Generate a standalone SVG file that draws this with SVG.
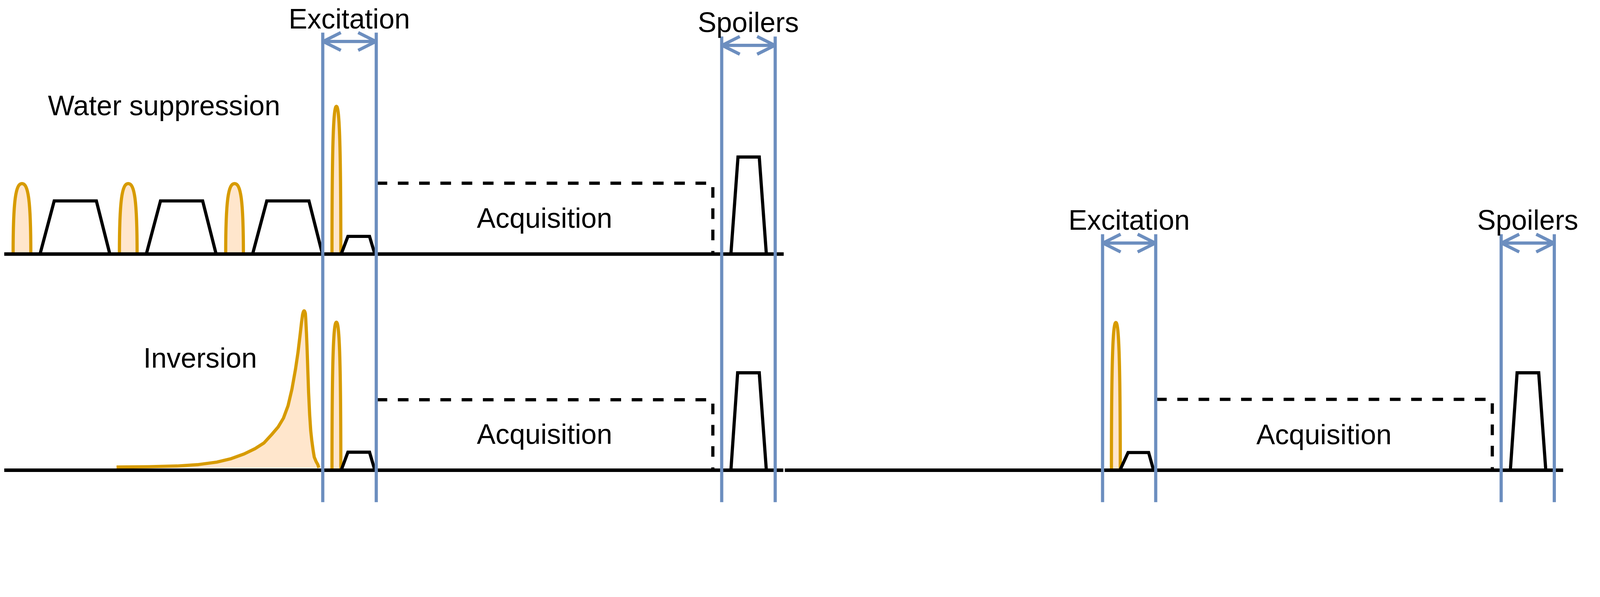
<svg xmlns="http://www.w3.org/2000/svg" width="4516" height="1528" viewBox="0 0 4516 1528" preserveAspectRatio="xMidYMin meet" style="width:100vw;height:100vh;display:block;overflow:hidden">
<defs>
<style>
.base{stroke:#000;stroke-width:10;fill:none}
.grad{stroke:#000;stroke-width:9;fill:none;stroke-linejoin:miter}
.dash{stroke:#000;stroke-width:9;fill:none;stroke-dasharray:30 30}
.rf{fill:#FFE6CC;stroke:#D79B00;stroke-width:9}
.rfill{fill:#FFE6CC;stroke:none}
.rline{fill:none;stroke:#D79B00;stroke-width:9;stroke-linejoin:round}
.guide{stroke:#6C8EBF;stroke-width:9;fill:none}
.arrow{stroke:#6C8EBF;stroke-width:9;fill:none;marker-start:url(#ah);marker-end:url(#ah)}
text{font-family:"Liberation Sans",Arial,sans-serif;font-size:79px;fill:#000;text-anchor:middle}
</style>
<marker id="ah" markerUnits="userSpaceOnUse" viewBox="-60 -35 70 70" markerWidth="70" markerHeight="70" refX="0" refY="0" orient="auto-start-reverse" overflow="visible">
<path d="M-50,-25 L0,0 L-50,25" fill="none" stroke="#6C8EBF" stroke-width="9" stroke-linejoin="round"/>
</marker>
</defs>
<rect width="4516" height="1528" fill="#fff"/>

<g id="rf-pulses">
<path class="rf" d="M37,717 C37,560 45,518 62,518 C79,518 87,560 87,717"/>
<path class="rf" d="M337,717 C337,560 345,518 362,518 C379,518 387,560 387,717"/>
<path class="rf" d="M637,717 C637,560 645,518 662,518 C679,518 687,560 687,717"/>
<path class="rf" d="M937,717 C937,380 942,300 949.5,300 C957,300 962,380 962,717"/>
<path class="rf" d="M937,1327 C937,990 942,909 949.5,909 C957,909 962,990 962,1327"/>
<path class="rf" d="M3137,1327 C3137,990 3142,910 3149.5,910 C3157,910 3162,990 3162,1327"/>
</g>

<g id="inversion-pulse">
<path class="rfill" d="M329,1318 L420,1317 L500,1315 L560,1311 L612,1304 L650,1295 L689,1281 L720,1266 L745,1250 L767,1226 L785,1205 L800,1180 L813,1145 L824,1098 L834,1042 L841,995 L847,945 L852,905 L855,885 L858,875 L861,879 L863,900 L865,940 L867,990 L869,1050 L871,1107 L874,1170 L877,1215 L880,1243 L884,1272 L887,1290 L892,1302 L897,1311 L900,1320 L329,1320 Z"/>
<path class="rline" d="M329,1318 L420,1317 L500,1315 L560,1311 L612,1304 L650,1295 L689,1281 L720,1266 L745,1250 L767,1226 L785,1205 L800,1180 L813,1145 L824,1098 L834,1042 L841,995 L847,945 L851,910 L854,888 Q858,868 862,885 L863,900 L865,940 L867,990 L869,1050 L871,1107 L874,1170 L877,1215 L880,1243 L884,1272 L887,1290 L892,1302 L897,1311 L900,1320"/>
</g>

<g id="baselines">
<line class="base" x1="12" y1="717" x2="2212" y2="717"/>
<line class="base" x1="12" y1="1327" x2="2211" y2="1327"/>
<line class="base" x1="2215" y1="1327" x2="4412" y2="1327"/>
</g>

<g id="gradients">
<polyline class="grad" points="113,717 153,567 272,567 310,717"/>
<polyline class="grad" points="413,717 453,567 572,567 610,717"/>
<polyline class="grad" points="713,717 753,567 872,567 910,717"/>
<polyline class="grad" points="963,717 982,667 1043,667 1058,717"/>
<polyline class="grad" points="963,1327 982,1276 1043,1276 1058,1327"/>
<polyline class="grad" points="3161,1327 3184,1277 3242,1277 3256,1327"/>
<polyline class="grad" points="2063,717 2083,443 2143,443 2163,717"/>
<polyline class="grad" points="2063,1327 2082,1052 2143,1052 2163,1327"/>
<polyline class="grad" points="4263,1327 4282,1052 4343,1052 4363,1327"/>
</g>

<g id="acquisition-windows">
<path class="dash" d="M1063,517 H2012 V717"/>
<path class="dash" d="M1063,1128 H2012 V1327"/>
<path class="dash" d="M3263,1127 H4212 V1327"/>
</g>

<g id="connectors">
<line class="guide" x1="911" y1="92" x2="911" y2="1417"/>
<line class="guide" x1="1062" y1="92" x2="1062" y2="1417"/>
<line class="guide" x1="2037" y1="103" x2="2037" y2="1417"/>
<line class="guide" x1="2188" y1="103" x2="2188" y2="1417"/>
<line class="guide" x1="3112" y1="661" x2="3112" y2="1417"/>
<line class="guide" x1="3262" y1="661" x2="3262" y2="1417"/>
<line class="guide" x1="4237" y1="661" x2="4237" y2="1417"/>
<line class="guide" x1="4387" y1="661" x2="4387" y2="1417"/>
<line class="arrow" x1="912" y1="117" x2="1061" y2="117"/>
<line class="arrow" x1="2038" y1="128" x2="2187" y2="128"/>
<line class="arrow" x1="3113" y1="686" x2="3261" y2="686"/>
<line class="arrow" x1="4238" y1="686" x2="4386" y2="686"/>
</g>

<g id="labels">
<text x="986" y="80">Excitation</text>
<text x="2112" y="90">Spoilers</text>
<text x="463" y="325">Water suppression</text>
<text x="565" y="1038">Inversion</text>
<text x="1537" y="643">Acquisition</text>
<text x="1537" y="1252">Acquisition</text>
<text x="3737" y="1254">Acquisition</text>
<text x="3187" y="648">Excitation</text>
<text x="4312" y="648">Spoilers</text>
</g>
</svg>
